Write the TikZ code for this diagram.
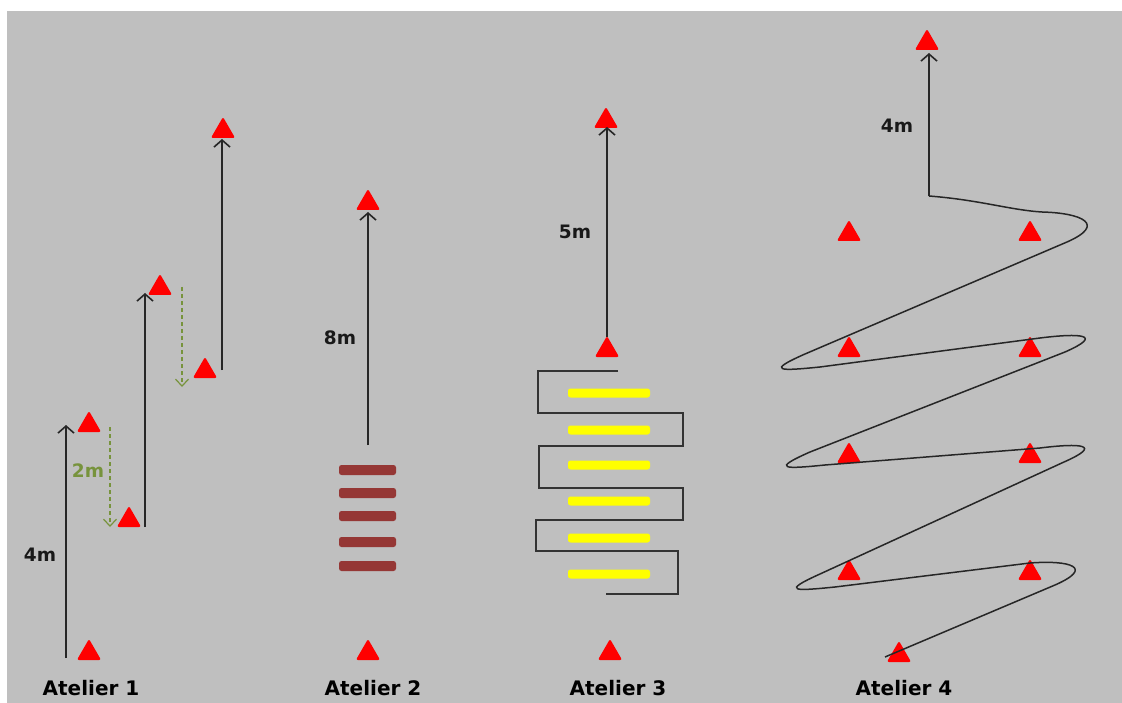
\documentclass[tikz,border=0pt]{standalone}
\usepackage{fontspec}
\setmainfont{DejaVu Sans}
\usetikzlibrary{arrows.meta,shapes.geometric}
\definecolor{bg}{RGB}{191,191,191}
\definecolor{conered}{RGB}{255,0,0}
\definecolor{brick}{RGB}{149,55,53}
\definecolor{olivegr}{RGB}{119,147,60}
\definecolor{ylw}{RGB}{255,255,0}
\begin{document}
\begin{tikzpicture}[x=1pt,y=-1pt,
  cone/.style={regular polygon, regular polygon sides=3, fill=conered, draw=none,
    minimum size=28pt, inner sep=0pt, outer sep=0pt, rounded corners=2pt},
  arr/.style={draw=black!85, line width=1.8pt,
    -{Straight Barb[length=7pt,width=16pt,line width=1.6pt]}},
  garr/.style={draw=olivegr, line width=1.3pt, dash pattern=on 4pt off 3pt,
    -{Straight Barb[length=7pt,width=13pt,line width=1.2pt,sep=0pt]}},
  dist/.style={font=\bfseries\fontsize{18.5}{20}\selectfont, text=black!90, inner sep=0pt},
  gdist/.style={font=\bfseries\fontsize{18.5}{20}\selectfont, text=olivegr, inner sep=0pt},
  title/.style={font=\bfseries\fontsize{20}{22}\selectfont, text=black, inner sep=0pt},
  brickbar/.style={fill=brick, draw=none, minimum width=57pt, minimum height=10pt,
    inner sep=0pt, rounded corners=2.5pt},
  yellowbar/.style={fill=ylw, draw=none, minimum width=82pt, minimum height=9pt,
    inner sep=0pt, rounded corners=2.5pt},
  serp/.style={draw=black!80, line width=2pt},
  zig/.style={draw=black!85, line width=1.5pt}
]
\useasboundingbox (0,0) rectangle (1122,703);
\fill[white] (0,0) rectangle (1122,703);
\fill[bg] (7,11) rectangle (1122,703);

% ---------------- Atelier 1 ----------------
\node[cone] (a1c1) at (89,653) {};
\node[cone] (a1c2) at (89,425) {};
\node[cone] (a1c3) at (129,520) {};
\node[cone] (a1c4) at (160,288) {};
\node[cone] (a1c5) at (205,371) {};
\node[cone] (a1c6) at (223,131) {};
\coordinate (a1s1) at (66,658);  \coordinate (a1e1) at (66,425);
\coordinate (a1s2) at (145,527); \coordinate (a1e2) at (145,293);
\coordinate (a1s3) at (222,370); \coordinate (a1e3) at (222,139);
\coordinate (a1g1s) at (110,427); \coordinate (a1g1e) at (110,527);
\coordinate (a1g2s) at (182,287); \coordinate (a1g2e) at (182,387);
\draw[arr] (a1s1) -- (a1e1);
\draw[arr] (a1s2) -- (a1e2);
\draw[arr] (a1s3) -- (a1e3);
\draw[garr] (a1g1s) -- (a1g1e);
\draw[garr] (a1g2s) -- (a1g2e);
\node[dist] (a1d) at (40,555) {4m};
\node[gdist] (a1g) at (88,471) {2m};
\node[title] (t1) at (91,688) {Atelier 1};

% ---------------- Atelier 2 ----------------
\node[cone] (a2c1) at (368,203) {};
\node[cone] (a2c2) at (368,653) {};
\coordinate (a2s) at (368,445); \coordinate (a2e) at (368,212);
\draw[arr] (a2s) -- (a2e);
\node[dist] (a2d) at (340,338) {8m};
\foreach \y [count=\i] in {470,493,516,542,566}
  \node[brickbar] (a2b\i) at (367.5,\y) {};
\node[title] (t2) at (373,688) {Atelier 2};

% ---------------- Atelier 3 ----------------
\node[cone] (a3c1) at (606,121) {};
\node[cone] (a3c2) at (607,350) {};
\node[cone] (a3c3) at (610,653) {};
\coordinate (a3s) at (607,337); \coordinate (a3e) at (607,127);
\draw[arr] (a3s) -- (a3e);
\node[dist] (a3d) at (575,232) {5m};
\foreach \y [count=\i] in {393,430,465,501,538,574}
  \node[yellowbar] (a3y\i) at (609,\y) {};
\coordinate (a3p0) at (618,371);
\coordinate (a3p1) at (606,594);
\draw[serp] (a3p0) -- (538,371) -- (538,413) -- (683,413) -- (683,446) -- (539,446)
  -- (539,488) -- (683,488) -- (683,520) -- (536,520) -- (536,551) -- (678,551)
  -- (678,594) -- (a3p1);
\node[title] (t3) at (618,688) {Atelier 3};

% ---------------- Atelier 4 ----------------
\node[cone] (a4c0) at (927,43) {};
\node[cone] (a4l1) at (849,234) {};
\node[cone] (a4r1) at (1030,234) {};
\node[cone] (a4l2) at (849,350) {};
\node[cone] (a4r2) at (1030,350) {};
\node[cone] (a4l3) at (849,456) {};
\node[cone] (a4r3) at (1030,456) {};
\node[cone] (a4l4) at (849,573) {};
\node[cone] (a4r4) at (1030,573) {};
\node[cone] (a4c9) at (899,655) {};
\coordinate (a4s) at (929,196); \coordinate (a4e) at (929,53);
\coordinate (a4z) at (885,657);
\draw[arr] (a4s) -- (a4e);
\draw[zig] (a4s) .. controls (980,200) and (1010,210) .. (1042,212)
  .. controls (1082,213) and (1107,224.4) .. (1067,242)
  -- (805,354) .. controls (765,371.6) and (780,371) .. (820,367)
  -- (1040,338) .. controls (1080,333) and (1105,334.4) .. (1065,352)
  -- (810,452) .. controls (770,469.6) and (785,469) .. (825,465)
  -- (1040,448) .. controls (1080,443) and (1104,444.4) .. (1064,462)
  -- (820,574) .. controls (780,592) and (795,591) .. (835,587)
  -- (1030,563) .. controls (1070,560) and (1095,567.4) .. (1055,585)
  -- (a4z);
\node[dist] (a4d) at (897,126) {4m};
\node[title] (t4) at (904,688) {Atelier 4};
\end{tikzpicture}
\end{document}
